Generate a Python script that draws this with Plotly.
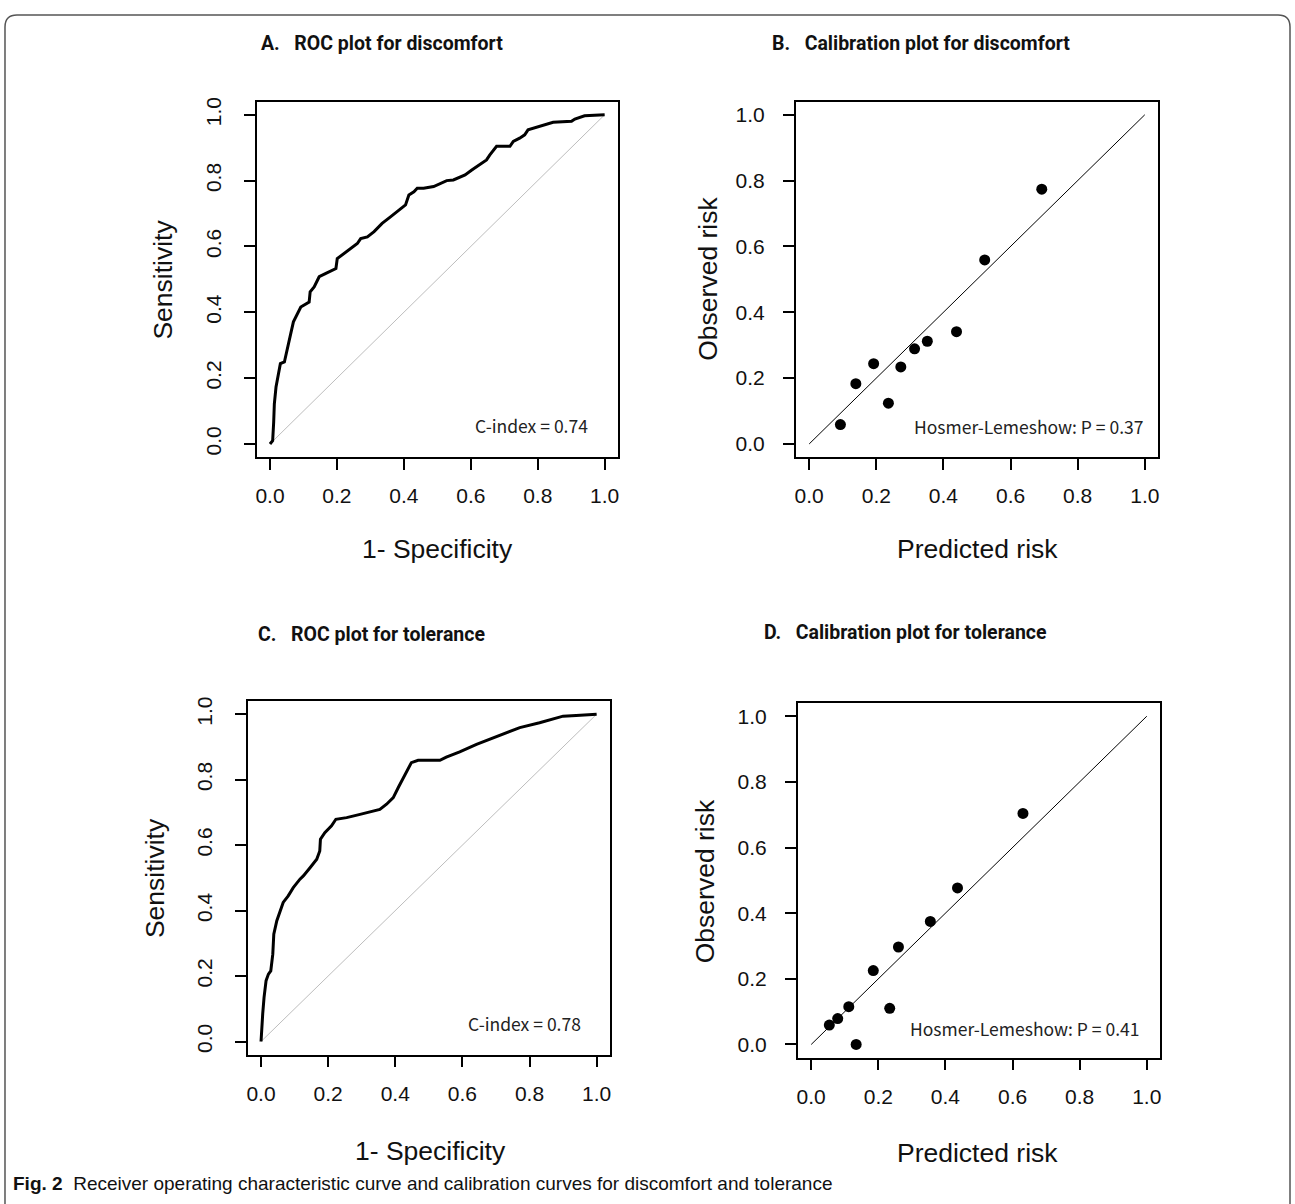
import plotly.graph_objects as go

W, H = 1295, 1204

# ---------------- data ----------------
roc_dis_fpr = [0.0, 0.008, 0.011, 0.013, 0.018, 0.023, 0.031, 0.043, 0.050, 0.057, 0.062, 0.070, 0.082, 0.092,
               0.117, 0.120, 0.132, 0.147, 0.167, 0.197, 0.201, 0.221, 0.241, 0.261, 0.271, 0.291, 0.311, 0.335,
               0.360, 0.385, 0.405, 0.415, 0.430, 0.440, 0.459, 0.489, 0.509, 0.528, 0.548, 0.568, 0.583, 0.603,
               0.627, 0.647, 0.657, 0.677, 0.717, 0.727, 0.746, 0.761, 0.771, 0.806, 0.846, 0.901, 0.911, 0.940, 1.0]
roc_dis_tpr = [0.0, 0.010, 0.066, 0.122, 0.173, 0.203, 0.244, 0.249, 0.279, 0.305, 0.335, 0.371, 0.396, 0.416,
               0.431, 0.462, 0.477, 0.508, 0.518, 0.533, 0.563, 0.579, 0.594, 0.609, 0.624, 0.629, 0.645, 0.670,
               0.690, 0.711, 0.726, 0.756, 0.766, 0.777, 0.777, 0.782, 0.792, 0.800, 0.802, 0.810, 0.817, 0.832,
               0.848, 0.863, 0.878, 0.904, 0.904, 0.919, 0.929, 0.939, 0.954, 0.964, 0.977, 0.980, 0.987, 0.997, 1.0]

roc_tol_fpr = [0.0, 0.002, 0.005, 0.009, 0.015, 0.022, 0.029, 0.035, 0.038, 0.047, 0.058, 0.066, 0.081, 0.096,
               0.116, 0.126, 0.146, 0.166, 0.175, 0.177, 0.190, 0.210, 0.223, 0.255, 0.295, 0.325, 0.354, 0.374,
               0.394, 0.409, 0.424, 0.448, 0.468, 0.533, 0.552, 0.592, 0.642, 0.691, 0.731, 0.771, 0.830, 0.900,
               0.939, 1.0]
roc_tol_tpr = [0.0, 0.044, 0.085, 0.135, 0.186, 0.206, 0.216, 0.267, 0.328, 0.369, 0.399, 0.425, 0.445, 0.470,
               0.496, 0.506, 0.531, 0.557, 0.582, 0.618, 0.638, 0.659, 0.679, 0.684, 0.694, 0.702, 0.709, 0.725,
               0.745, 0.776, 0.806, 0.852, 0.859, 0.859, 0.869, 0.885, 0.908, 0.928, 0.943, 0.959, 0.974, 0.994,
               0.996, 1.0]

cal_dis_pred = [0.093, 0.139, 0.192, 0.236, 0.273, 0.314, 0.352, 0.439, 0.523, 0.693]
cal_dis_obs = [0.059, 0.183, 0.244, 0.124, 0.234, 0.289, 0.312, 0.341, 0.559, 0.774]

cal_tol_pred = [0.054, 0.079, 0.112, 0.134, 0.185, 0.234, 0.260, 0.355, 0.436, 0.631]
cal_tol_obs = [0.059, 0.079, 0.115, 0.0, 0.225, 0.110, 0.297, 0.375, 0.477, 0.704]

diag = [0.0, 1.0]
tick_vals = [0.0, 0.2, 0.4, 0.6, 0.8, 1.0]
tick_text = ["0.0", "0.2", "0.4", "0.6", "0.8", "1.0"]

titles = ["A.\u00a0\u00a0\u00a0ROC plot for discomfort", "B.\u00a0\u00a0\u00a0Calibration plot for discomfort",
          "C.\u00a0\u00a0\u00a0ROC plot for tolerance", "D.\u00a0\u00a0\u00a0Calibration plot for tolerance"]
c_index = ["C-index = 0.74", "C-index = 0.78"]
hl_text = ["Hosmer-Lemeshow: P = 0.37", "Hosmer-Lemeshow: P = 0.41"]
caption_bold = "Fig. 2"
caption_text = "Receiver operating characteristic curve and calibration curves for discomfort and tolerance"

# ---------------- layout helpers ----------------
ARIAL = "Liberation Sans, Arial, sans-serif"
TITLEF = "Roboto, Liberation Sans, sans-serif"
CJK = "Noto Sans CJK SC, Noto Sans, sans-serif"

# panel boxes in pixels: (left, top, right, bottom)
boxes = [(256, 97, 618, 454), (796, 97, 1159, 454), (247, 699, 610, 1054), (798, 701, 1161, 1057)]


def px_x(x):
    return x / W


def px_y(y):
    return 1 - y / H


fig = go.Figure()

# ROC diagonals and curves
for i, (fx, ty) in enumerate([(roc_dis_fpr, roc_dis_tpr), (roc_tol_fpr, roc_tol_tpr)]):
    ax = 1 if i == 0 else 3
    sx = "" if ax == 1 else str(ax)
    fig.add_trace(go.Scatter(x=diag, y=diag, mode="lines", line=dict(color="#bdbdbd", width=1),
                             xaxis="x" + sx, yaxis="y" + sx, showlegend=False, hoverinfo="skip"))
    fig.add_trace(go.Scatter(x=fx, y=ty, mode="lines", line=dict(color="black", width=3, shape="linear"),
                             xaxis="x" + sx, yaxis="y" + sx, showlegend=False))

# Calibration
for i, (px, ob) in enumerate([(cal_dis_pred, cal_dis_obs), (cal_tol_pred, cal_tol_obs)]):
    ax = 2 if i == 0 else 4
    sx = str(ax)
    fig.add_trace(go.Scatter(x=diag, y=diag, mode="lines", line=dict(color="black", width=1),
                             xaxis="x" + sx, yaxis="y" + sx, showlegend=False, hoverinfo="skip"))
    fig.add_trace(go.Scatter(x=px, y=ob, mode="markers", marker=dict(color="black", size=11),
                             xaxis="x" + sx, yaxis="y" + sx, showlegend=False))

layout = dict(width=W, height=H, margin=dict(l=0, r=0, t=0, b=0),
              paper_bgcolor="white", plot_bgcolor="white", showlegend=False)

for k, (l, t, r, b) in enumerate(boxes):
    n = k + 1
    sfx = "" if n == 1 else str(n)
    roc = n in (1, 3)
    common = dict(range=[-0.04, 1.04], showline=True, mirror=True, linecolor="black", linewidth=1.5,
                  ticks="outside", ticklen=11, tickwidth=1.5, tickcolor="black", showgrid=False,
                  zeroline=False, tickvals=tick_vals, ticktext=tick_text,
                  tickfont=dict(family=ARIAL, size=21, color="#111111"), fixedrange=True)
    layout["xaxis" + sfx] = dict(common, domain=[px_x(l), px_x(r)], anchor="y" + sfx, ticklabelstandoff=8)
    yax = dict(common, domain=[px_y(b), px_y(t)], anchor="x" + sfx)
    if roc:
        yax.update(tickangle=-90, ticklabelstandoff=14)
    else:
        yax.update(ticklabelstandoff=14)
    layout["yaxis" + sfx] = yax

fig.update_layout(**layout)

ann = []
# panel titles
title_pos = [(258, 39), (770, 39), (255, 632), (762, 630)]
for txt, (x, y) in zip(titles, title_pos):
    ann.append(dict(text="<b>" + txt + "</b>", x=px_x(x), y=px_y(y), xref="paper", yref="paper",
                    xanchor="left", yanchor="middle", showarrow=False,
                    font=dict(family=TITLEF, size=19.5, color="#111111")))

# axis titles
axis_titles = [
    ("1- Specificity", 437, 546, 0), ("Sensitivity", 162, 276, -90),
    ("Predicted risk", 978, 546, 0), ("Observed risk", 708, 275, -90),
    ("1- Specificity", 430, 1151, 0), ("Sensitivity", 155, 877, -90),
    ("Predicted risk", 978, 1153, 0), ("Observed risk", 705, 880, -90),
]
for txt, x, y, ang in axis_titles:
    ann.append(dict(text=txt, x=px_x(x), y=px_y(y), xref="paper", yref="paper",
                    xanchor="center", yanchor="middle", showarrow=False, textangle=ang,
                    font=dict(family=ARIAL, size=26.5, color="#111111")))

# C-index / Hosmer-Lemeshow annotations (data coordinates)
small = dict(family=CJK, size=17.5, color="#222222")
ann.append(dict(text=c_index[0], x=0.78, y=0.055, xref="x", yref="y", showarrow=False,
                xanchor="center", yanchor="middle", font=small))
ann.append(dict(text=c_index[1], x=0.786, y=0.055, xref="x3", yref="y3", showarrow=False,
                xanchor="center", yanchor="middle", font=small))
ann.append(dict(text=hl_text[0], x=0.656, y=0.052, xref="x2", yref="y2", showarrow=False,
                xanchor="center", yanchor="middle", font=small))
ann.append(dict(text=hl_text[1], x=0.637, y=0.049, xref="x4", yref="y4", showarrow=False,
                xanchor="center", yanchor="middle", font=small))

# caption
ann.append(dict(text="<b>" + caption_bold + "</b>\u00a0\u00a0" + caption_text, x=px_x(10), y=px_y(1183),
                xref="paper", yref="paper", xanchor="left", yanchor="middle", showarrow=False,
                font=dict(family=ARIAL, size=19, color="#111111")))

fig.update_layout(annotations=ann)

# rounded outer frame (open at the bottom)
x0, x1 = 4, 1291
yt = 10
rad = 12
ybot = 1215
path = (f"M {px_x(x0)} {px_y(ybot)} L {px_x(x0)} {px_y(yt + rad)} "
        f"Q {px_x(x0)} {px_y(yt)} {px_x(x0 + rad)} {px_y(yt)} "
        f"L {px_x(x1 - rad)} {px_y(yt)} "
        f"Q {px_x(x1)} {px_y(yt)} {px_x(x1)} {px_y(yt + rad)} "
        f"L {px_x(x1)} {px_y(ybot)}")
fig.add_shape(type="path", path=path, xref="paper", yref="paper",
              line=dict(color="#555555", width=1.5))

fig.write_html("out.html", config={"displayModeBar": False},
               post_script="document.body.style.margin='0';document.body.style.overflow='hidden';")
